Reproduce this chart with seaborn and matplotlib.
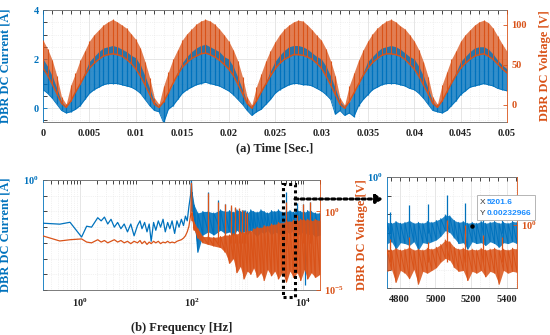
import numpy as np
import matplotlib
matplotlib.use("Agg")
import matplotlib.pyplot as plt
import seaborn as sns
from matplotlib.patches import Rectangle, FancyBboxPatch, FancyArrowPatch
from matplotlib.ticker import FixedLocator, FixedFormatter, NullFormatter, MultipleLocator

BLUE = "#0072BD"
ORANGE = "#D95319"

# ---------------- (a) time domain, read every 0.5 ms ----------------
time_s = np.round(np.arange(101) * 0.0005, 4)

# DBR DC current [A], lower / upper edge of the ripple
current_lo = [0.75, 0.6, 0.4, 0.15, -0.1, -0.2, -0.15, -0.05, 0.1, 0.35, 0.6, 0.75, 0.85, 0.95, 1.0, 1.0, 1.0, 0.95, 0.9, 0.85,
              0.75, 0.6, 0.35, 0.1, -0.1, -0.15, -0.6, -0.05, 0.1, 0.35, 0.6, 0.75, 0.85, 0.95, 1.0, 1.05, 1.0, 0.95, 0.9, 0.8,
              0.7, 0.55, 0.35, 0.15, -0.1, -0.3, -0.15, -0.05, 0.15, 0.35, 0.6, 0.75, 0.85, 0.95, 1.0, 1.0, 0.95, 0.95, 0.9, 0.8,
              0.7, 0.55, 0.35, -0.25, -0.1, -0.3, -0.2, -0.35, 0.1, 0.35, 0.55, 0.75, 0.85, 0.95, 1.0, 1.0, 1.0, 0.95, 0.9, 0.8,
              0.75, 0.6, 0.4, 0.15, -0.1, -0.15, -0.2, -0.1, 0.1, 0.3, 0.55, 0.7, 0.85, 0.9, 0.95, 1.0, 0.95, 0.9, 0.8, 0.75,
              0.7]
current_hi = [2.0, 1.7, 1.3, 0.8, 0.25, 0.05, 0.3, 0.7, 1.0, 1.45, 1.9, 2.1, 2.3, 2.45, 2.5, 2.55, 2.5, 2.4, 2.3, 2.15,
              2.05, 1.75, 1.3, 0.8, 0.25, 0.05, 0.3, 0.65, 1.0, 1.45, 1.85, 2.1, 2.3, 2.45, 2.55, 2.6, 2.5, 2.4, 2.3, 2.1,
              2.0, 1.7, 1.25, 0.75, 0.2, 0.05, 0.3, 0.7, 1.05, 1.5, 1.9, 2.15, 2.35, 2.5, 2.55, 2.55, 2.5, 2.4, 2.25, 2.1,
              2.0, 1.7, 1.3, 0.8, 0.25, 0.05, 0.25, 0.65, 1.0, 1.45, 1.9, 2.1, 2.3, 2.45, 2.5, 2.55, 2.5, 2.4, 2.25, 2.1,
              2.0, 1.7, 1.3, 0.8, 0.25, 0.05, 0.3, 0.7, 1.05, 1.45, 1.9, 2.1, 2.3, 2.45, 2.5, 2.5, 2.4, 2.2, 1.95, 1.75,
              1.6]

# DBR DC voltage [V], lower / upper edge of the ripple
voltage_lo = [46, 37, 26, 14, 2, -3, 5, 16, 26, 37, 46, 52, 57, 61, 63, 64, 63, 61, 57, 52,
              45, 36, 25, 13, 1, -3, 4, 15, 27, 38, 47, 53, 58, 61, 64, 65, 63, 60, 56, 51,
              45, 37, 26, 14, 2, -4, 5, 16, 26, 36, 45, 52, 57, 60, 63, 63, 62, 60, 57, 52,
              46, 36, 25, 13, 1, -4, 4, 15, 26, 37, 46, 53, 58, 62, 64, 64, 63, 61, 57, 51,
              45, 36, 25, 14, 2, -3, 5, 16, 27, 37, 46, 52, 57, 61, 63, 64, 61, 57, 51, 45,
              40]
voltage_hi = [81, 70, 56, 36, 10, 1, 25, 40, 56, 68, 80, 88, 94, 100, 104, 107, 104, 100, 96, 89,
              82, 71, 54, 34, 9, 1, 24, 41, 57, 69, 81, 89, 95, 101, 105, 107, 105, 101, 95, 88,
              80, 69, 55, 35, 10, 0, 23, 39, 55, 68, 79, 88, 95, 100, 104, 106, 105, 100, 94, 87,
              81, 70, 55, 36, 9, 0, 24, 40, 56, 69, 80, 89, 96, 101, 105, 107, 104, 99, 95, 88,
              80, 69, 54, 35, 10, 1, 25, 41, 57, 68, 80, 88, 94, 100, 104, 106, 103, 96, 86, 76,
              67]
time_ticks = [0, 0.005, 0.01, 0.015, 0.02, 0.025, 0.03, 0.035, 0.04, 0.045, 0.05]
time_tick_labels = ["0", "0.005", "0.01", "0.015", "0.02", "0.025", "0.03", "0.035", "0.04", "0.045", "0.05"]

# ---------------- (b) spectrum, log10 magnitudes ----------------
# single traces below the 100 Hz line
freq_low = [0.22, 0.44, 0.67, 1.08, 1.33, 1.63, 2.1, 2.42, 2.77, 3.17, 3.63, 4.16, 4.77, 5.46, 6.25, 7.16, 8.2, 9.4,
            10.8, 12, 13, 14.5, 16, 17.5, 19, 21, 23, 25.5, 28, 31, 34, 37.5, 41, 45, 50, 55, 60, 66, 72, 78, 84,
            90, 97, 100]
cur_low_exp = [-2.75, -2.81, -2.69, -3.63, -2.94, -3.0, -2.4, -2.6, -2.36, -2.8, -2.5, -3.0, -2.7, -3.1, -2.8, -3.3, -2.8, -3.55,
               -2.9, -2.6, -3.1, -2.7, -3.3, -2.8, -3.9, -2.7, -3.2, -2.6, -3.0, -2.5, -3.3, -2.7, -3.1, -2.6, -3.4, -2.6,
               -3.0, -2.5, -2.9, -2.3, -2.6, -1.7, -0.9, 0.0]
volt_low_exp = [-1.56, -1.88, -1.8, -1.75, -1.95, -2.0, -1.8, -1.95, -1.85, -2.0, -1.9, -1.8, -1.95, -1.85, -2.0, -1.9, -2.05, -1.9,
                -2.0, -1.85, -2.05, -1.9, -2.1, -1.95, -2.05, -1.9, -2.0, -1.9, -2.05, -1.95, -2.0, -1.9, -2.0, -1.95, -2.0, -1.9,
                -1.85, -1.8, -1.7, -1.55, -1.3, -0.95, -0.2, 1.75]

# noisy band above 100 Hz: lower / upper edge
freq_band = [100, 103, 112, 130, 160, 200, 250, 330, 400, 480, 560, 650, 750, 870, 1000, 1150, 1300, 1500, 1750, 2000,
             2300, 2700, 3100, 3600, 4200, 5000, 5800, 6700, 7800, 9000, 10500, 12000, 14000, 16500, 20000]
cur_band_lo = [-0.1, -2.0, -2.8, -4.6, -3.5, -3.3, -3.5, -3.2, -3.4, -3.3, -3.6, -3.2, -3.4, -3.3, -3.5, -3.2, -3.4, -3.6, -3.3, -3.4,
               -3.2, -3.5, -3.3, -3.4, -3.6, -3.3, -3.4, -3.2, -3.5, -3.4, -3.3, -3.5, -3.4, -3.6, -3.5]
cur_band_hi = [0.0, -0.8, -1.6, -2.1, -2.0, -2.0, -2.1, -1.9, -2.0, -1.95, -2.05, -1.9, -2.0, -1.95, -2.1, -1.9, -2.0, -2.05, -1.9, -2.0,
               -2.1, -1.95, -2.0, -1.9, -2.05, -2.0, -1.95, -2.05, -1.9, -2.0, -2.05, -1.95, -2.0, -2.1, -2.1]
volt_band_lo = [1.7, -0.6, -1.2, -1.7, -2.0, -2.1, -2.2, -2.3, -2.6, -3.3, -3.0, -3.9, -3.5, -4.3, -3.8, -4.0, -3.6, -4.2, -3.9, -4.4,
                -3.7, -4.1, -3.8, -4.3, -3.9, -4.5, -3.8, -4.2, -3.9, -4.4, -3.7, -4.3, -3.9, -4.2, -4.0]
volt_band_hi = [1.8, -0.1, -0.7, -1.1, -1.6, -1.6, -1.65, -1.6, -1.5, -1.5, -1.4, -1.45, -1.3, -1.35, -1.2, -1.25, -1.1, -1.0, -1.05, -0.9,
                -0.95, -0.8, -0.85, -0.7, -0.75, -0.6, -0.65, -0.55, -0.6, -0.5, -0.55, -0.5, -0.6, -0.5, -0.6]

harm_freq = [200, 300, 400, 500, 600, 700, 800, 900, 1000, 5000, 7600, 10000, 13500]
cur_harm_exp = [-0.75, -1.25, -1.55, -1.7, -1.8, -1.85, -1.9, -1.9, -1.95, -0.75, -1.45, -1.5, -1.4]
volt_harm_exp = [1.15, 0.6, 0.5, 0.4, 0.3, 0.2, 0.1, 0.0, -0.1, 0.6, -0.2, 0.5, 0.6]
cur_floor_exp = -3.0
volt_floor_exp = -2.0
cur_dip_freq = [4600, 10700]
cur_dip_exp = [-5.0, -6.7]

# ---------------- zoom 4730-5455 Hz ----------------
freq_zoom = np.arange(4730, 5456, 25)
zoom_cur_hi = [-2.45, -2.5, -2.4, -2.5, -2.45, -2.35, -2.5, -2.45, -2.5, -2.4, -2.45, -2.35, -2.25, -2.05, -2.1,
               -2.35, -2.45, -2.4, -2.5, -2.45, -2.5, -2.4, -2.5, -2.45, -2.4, -2.5, -2.45, -2.5, -2.4, -2.45]
zoom_cur_lo = [-3.6, -3.5, -3.9, -3.55, -3.6, -3.7, -3.5, -3.95, -3.55, -3.6, -3.5, -3.4, -3.2, -2.9, -3.0,
               -3.3, -3.6, -3.55, -3.9, -3.5, -3.6, -3.55, -3.7, -3.5, -3.6, -3.8, -3.55, -3.6, -3.5, -3.6]
zoom_volt_hi = [-1.3, -1.35, -1.25, -1.35, -1.3, -1.2, -1.35, -1.3, -1.35, -1.25, -1.3, -1.2, -1.05, -0.8, -0.9,
                -1.2, -1.3, -1.25, -1.35, -1.3, -1.35, -1.25, -1.35, -1.3, -1.25, -1.35, -1.3, -1.35, -1.25, -1.3]
zoom_volt_lo = [-2.5, -2.4, -3.1, -2.45, -2.6, -2.9, -2.4, -3.2, -2.5, -2.6, -2.45, -2.3, -2.0, -1.8, -1.9,
                -2.3, -2.5, -2.45, -3.0, -2.5, -2.6, -2.45, -2.8, -2.5, -2.6, -3.2, -2.45, -2.6, -2.5, -2.55]
zoom_harm_freq = [4744, 4850, 4960, 5065, 5167, 5268, 5372]
zoom_cur_harm_exp = [-1.9, -1.5, -1.46, -0.97, -1.4, -1.5, -1.4]
zoom_volt_harm_exp = [-0.75, -0.64, -0.9, 0.28, 0.0, -0.53, -0.64]
zoom_cur_floor_exp = -3.0
zoom_volt_floor_exp = -2.0
tip_x = 5201.6
tip_y = 0.00232966


def zigzag(x, lo, hi):
    # stroke from lo to hi at every reading
    return np.repeat(np.asarray(x, float), 2), np.column_stack([lo, hi]).ravel()


def style(ax, twin, lcolor, rcolor):
    ax.tick_params(axis="both", which="both", direction="in", length=3, width=0.6, top=True, pad=3)
    ax.tick_params(axis="y", colors=lcolor, labelsize=7.5)
    ax.tick_params(axis="x", colors="#333333", labelcolor="#222222", labelsize=7.5, pad=5)
    twin.tick_params(axis="y", which="both", direction="in", length=3, width=0.6, colors=rcolor, labelsize=7.5, pad=3)
    ax.spines["left"].set_color(lcolor)
    twin.spines["right"].set_color(rcolor)
    for s in ["top", "bottom"]:
        ax.spines[s].set_color("#666666")
        twin.spines[s].set_visible(False)
    twin.spines["left"].set_visible(False)
    ax.spines["right"].set_visible(False)
    for s in ax.spines.values():
        s.set_linewidth(0.6)
    twin.spines["right"].set_linewidth(0.6)
    ax.grid(True, which="major", color="#dcdcdc", lw=0.5, ls="-")
    ax.grid(True, which="minor", color="#e6e6e6", lw=0.5, ls=":")
    for lab in ax.get_xticklabels() + ax.get_yticklabels() + twin.get_yticklabels():
        lab.set_fontweight("bold")


sns.set_theme(style="white")
plt.rcParams["font.family"] = ["Liberation Serif"]
plt.rcParams["font.weight"] = "bold"
plt.rcParams["axes.labelweight"] = "bold"
plt.rcParams["mathtext.fontset"] = "custom"
plt.rcParams["mathtext.rm"] = "Liberation Serif:bold"
plt.rcParams["mathtext.bf"] = "Liberation Serif:bold"
plt.rcParams["mathtext.default"] = "bf"

fig = plt.figure(figsize=(5.5, 3.35), dpi=100)
W, H = 550.0, 335.0
LABEL_FS = 9

# ---------- (a) ----------
ax_a = fig.add_axes([43 / W, 1 - 122 / H, 464 / W, 112 / H])
ax_a.set_xlim(0, 0.05)
ax_a.set_ylim(-0.57, 4.0)
ax_a.xaxis.set_major_locator(FixedLocator(time_ticks))
ax_a.xaxis.set_major_formatter(FixedFormatter(time_tick_labels))
ax_a.xaxis.set_minor_locator(MultipleLocator(0.001))
ax_a.set_yticks([0, 2, 4])
ax_a.yaxis.set_minor_locator(MultipleLocator(0.5))

ax_av = ax_a.twinx()
ax_av.set_ylim(-21.25, 118.75)
ax_av.set_yticks([0, 50, 100])
# voltage body, then current (in amps, through the left scale), then voltage spikes on top
ax_av.fill_between(time_s, voltage_lo, voltage_hi, color=ORANGE, alpha=0.75, lw=0, zorder=1)
cur_tr = ax_a.transData
ax_av.fill_between(time_s, current_lo, current_hi, color=BLUE, alpha=0.8, lw=0, zorder=2, transform=cur_tr)
ax_av.vlines(time_s, current_lo, current_hi, color=BLUE, lw=0.9, zorder=2, transform=cur_tr)
sns.lineplot(x=time_s, y=current_lo, ax=ax_av, color=BLUE, lw=0.6, zorder=2, transform=cur_tr)
ax_av.vlines(time_s, voltage_lo, voltage_hi, color=ORANGE, lw=0.8, zorder=3)
sns.lineplot(x=time_s, y=voltage_lo, ax=ax_av, color=ORANGE, lw=1.0, zorder=3)
ax_av.set_xlim(0, 0.05)
style(ax_a, ax_av, BLUE, ORANGE)

ax_a.set_xlabel("(a) Time [Sec.]", fontsize=LABEL_FS, color="#222222", labelpad=3)
ax_a.set_ylabel("DBR DC Current [A]", fontsize=LABEL_FS, color=BLUE)
ax_a.yaxis.set_label_coords(-0.068, 0.5)
ax_av.set_ylabel("DBR DC Voltage [V]", fontsize=LABEL_FS, color=ORANGE)
ax_av.yaxis.set_label_coords(1.07, 0.5)

# ---------- (b) overview spectrum ----------
ax_b = fig.add_axes([43 / W, 1 - 290 / H, 277 / W, 110 / H])
ax_b.set_xscale("log")
ax_b.set_yscale("log")
sns.lineplot(x=freq_low, y=10.0 ** np.array(cur_low_exp), ax=ax_b, color=BLUE, lw=0.9)
ax_b.fill_between(freq_band, 10.0 ** np.array(cur_band_lo), 10.0 ** np.array(cur_band_hi), color=BLUE, alpha=0.9, lw=0)
zx, zy = zigzag(freq_band, 10.0 ** np.array(cur_band_lo), 10.0 ** np.array(cur_band_hi))
sns.lineplot(x=zx, y=zy, ax=ax_b, color=BLUE, lw=0.8, sort=False, estimator=None)
ax_b.vlines(harm_freq, 10.0 ** cur_floor_exp, 10.0 ** np.array(cur_harm_exp), color=BLUE, lw=0.9)
ax_b.vlines(cur_dip_freq, 10.0 ** np.array(cur_dip_exp), 10.0 ** cur_floor_exp, color=BLUE, lw=0.9)
ax_b.set_xlim(0.22, 20000)
ax_b.set_ylim(1e-7, 1)
ax_b.xaxis.set_major_locator(FixedLocator([1, 100, 10000]))
ax_b.xaxis.set_major_formatter(FixedFormatter([r"$10^{0}$", r"$10^{2}$", r"$10^{4}$"]))
ax_b.xaxis.set_minor_locator(FixedLocator([m * 10.0 ** d for d in range(-1, 5) for m in range(1, 10)
                                           if m * 10.0 ** d not in (1, 100, 10000)]))
ax_b.xaxis.set_minor_formatter(NullFormatter())
ax_b.yaxis.set_major_locator(FixedLocator([1]))
ax_b.yaxis.set_major_formatter(FixedFormatter([r"$10^{0}$"]))
ax_b.yaxis.set_minor_locator(FixedLocator([10.0 ** d for d in range(-7, 0)]))
ax_b.yaxis.set_minor_formatter(NullFormatter())

ax_bv = ax_b.twinx()
ax_bv.set_yscale("log")
sns.lineplot(x=freq_low, y=10.0 ** np.array(volt_low_exp), ax=ax_bv, color=ORANGE, lw=0.9)
ax_bv.fill_between(freq_band, 10.0 ** np.array(volt_band_lo), 10.0 ** np.array(volt_band_hi), color=ORANGE, alpha=0.9, lw=0)
zx, zy = zigzag(freq_band, 10.0 ** np.array(volt_band_lo), 10.0 ** np.array(volt_band_hi))
sns.lineplot(x=zx, y=zy, ax=ax_bv, color=ORANGE, lw=0.8, sort=False, estimator=None)
ax_bv.vlines(harm_freq, 10.0 ** volt_floor_exp, 10.0 ** np.array(volt_harm_exp), color=ORANGE, lw=0.9)
ax_bv.set_ylim(1e-5, 1e2)
ax_bv.yaxis.set_major_locator(FixedLocator([1e-5, 1]))
ax_bv.yaxis.set_major_formatter(FixedFormatter([r"$10^{-5}$", r"$10^{0}$"]))
ax_bv.yaxis.set_minor_locator(FixedLocator([]))
style(ax_b, ax_bv, BLUE, ORANGE)

ax_b.set_xlabel("(b) Frequency [Hz]", fontsize=LABEL_FS, color="#222222", labelpad=9)
ax_b.set_ylabel("DBR DC Current [A]", fontsize=LABEL_FS, color=BLUE)
ax_b.yaxis.set_label_coords(-0.112, 0.5)
ax_bv.set_ylabel("DBR DC Voltage [V]", fontsize=LABEL_FS, color=ORANGE)
ax_bv.yaxis.set_label_coords(1.13, 0.5)

# ---------- zoomed spectrum ----------
ax_z = fig.add_axes([387 / W, 1 - 288 / H, 130 / W, 111 / H])
ax_z.set_yscale("log")
ax_z.fill_between(freq_zoom, 10.0 ** np.array(zoom_cur_lo), 10.0 ** np.array(zoom_cur_hi), color=BLUE, alpha=0.85, lw=0)
zx, zy = zigzag(freq_zoom, 10.0 ** np.array(zoom_cur_lo), 10.0 ** np.array(zoom_cur_hi))
sns.lineplot(x=zx, y=zy, ax=ax_z, color=BLUE, lw=0.7, sort=False, estimator=None)
ax_z.vlines(zoom_harm_freq, 10.0 ** zoom_cur_floor_exp, 10.0 ** np.array(zoom_cur_harm_exp), color=BLUE, lw=0.9)
ax_z.plot([tip_x], [tip_y], "o", color="black", ms=2.2, zorder=5)
ax_z.set_xlim(4730, 5455)
ax_z.set_ylim(1e-6, 1)
ax_z.xaxis.set_major_locator(FixedLocator([4800, 5000, 5200, 5400]))
ax_z.xaxis.set_minor_locator(MultipleLocator(50))
ax_z.yaxis.set_major_locator(FixedLocator([1]))
ax_z.yaxis.set_major_formatter(FixedFormatter([r"$10^{0}$"]))
ax_z.yaxis.set_minor_locator(FixedLocator([10.0 ** d for d in range(-6, 0)]))
ax_z.yaxis.set_minor_formatter(NullFormatter())

ax_zv = ax_z.twinx()
ax_zv.set_yscale("log")
ax_zv.fill_between(freq_zoom, 10.0 ** np.array(zoom_volt_lo), 10.0 ** np.array(zoom_volt_hi), color=ORANGE, alpha=0.85, lw=0)
zx, zy = zigzag(freq_zoom, 10.0 ** np.array(zoom_volt_lo), 10.0 ** np.array(zoom_volt_hi))
sns.lineplot(x=zx, y=zy, ax=ax_zv, color=ORANGE, lw=0.7, sort=False, estimator=None)
ax_zv.vlines(zoom_harm_freq, 10.0 ** zoom_volt_floor_exp, 10.0 ** np.array(zoom_volt_harm_exp), color=ORANGE, lw=0.9)
ax_zv.set_ylim(10 ** -3.4, 10 ** 2.6)
ax_zv.yaxis.set_major_locator(FixedLocator([1]))
ax_zv.yaxis.set_major_formatter(FixedFormatter([r"$10^{0}$"]))
ax_zv.yaxis.set_minor_locator(FixedLocator([]))
style(ax_z, ax_zv, BLUE, ORANGE)

# data tip
fig.add_artist(FancyBboxPatch((477 / W, 1 - 220 / H), 58 / W, 25 / H, boxstyle="square,pad=0",
                              transform=fig.transFigure, facecolor="white", edgecolor="#aaaaaa", lw=0.6))
tip_font = dict(fontsize=6, family="Liberation Sans", va="center")
fig.text(480 / W, 1 - 203 / H, "X", color="#333333", weight="normal", **tip_font)
fig.text(487 / W, 1 - 203 / H, f"{tip_x}", color="#1a8cff", weight="bold", **tip_font)
fig.text(480 / W, 1 - 213.5 / H, "Y", color="#333333", weight="normal", **tip_font)
fig.text(487 / W, 1 - 213.5 / H, f"{tip_y}", color="#1a8cff", weight="bold", **tip_font)

# dotted zoom box and arrow
fig.add_artist(Rectangle((283 / W, 1 - 297 / H), 12 / W, 113 / H, transform=fig.transFigure,
                         fill=False, edgecolor="black", lw=2.2, ls=(0, (1, 1))))
fig.add_artist(FancyArrowPatch((295 / W, 1 - 199 / H), (383 / W, 1 - 199 / H), transform=fig.transFigure,
                               arrowstyle="-|>,head_length=4,head_width=2.5", color="black", lw=2.2,
                               linestyle=(0, (1, 1)), shrinkA=0, shrinkB=0))

fig.savefig("out.png", dpi=100)
